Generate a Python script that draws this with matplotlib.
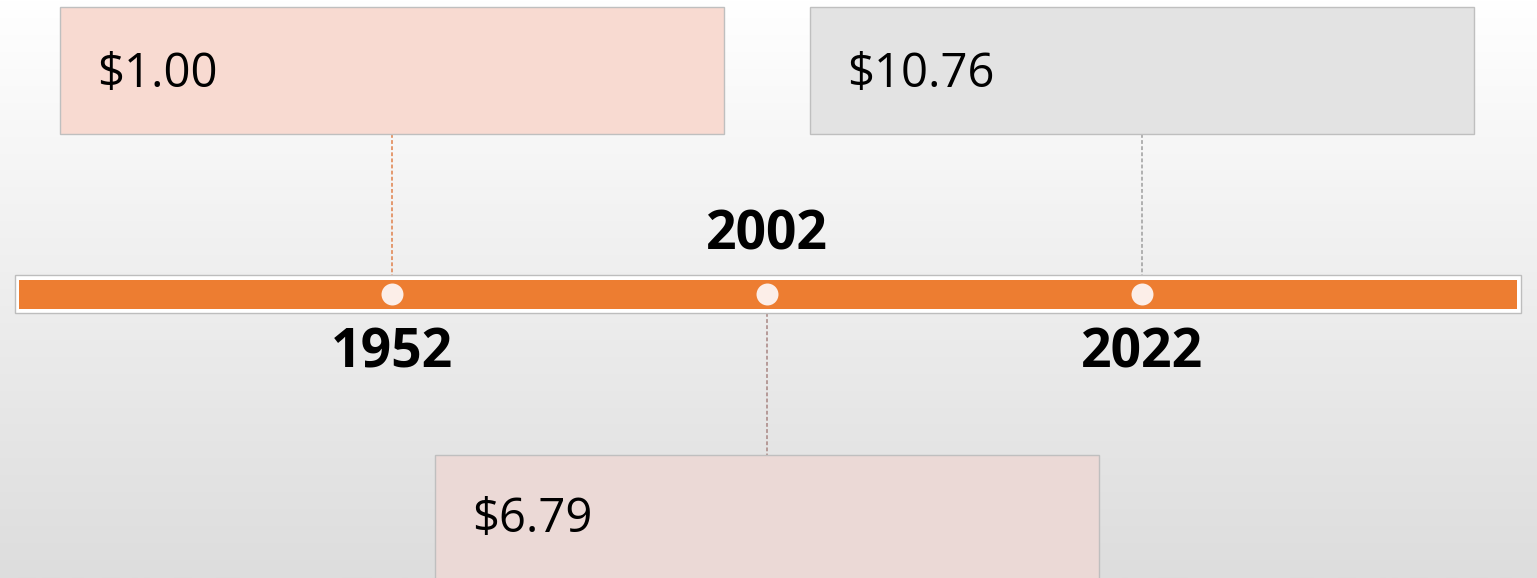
import numpy as np
import matplotlib
matplotlib.use("Agg")
import matplotlib.pyplot as plt
from matplotlib.patches import Rectangle
from matplotlib.colors import LinearSegmentedColormap

# ---- data ----
years = ["1952", "2002", "2022"]
prices = [1.00, 6.79, 10.76]
box_colors = ["#F8DAD1", "#EBD9D6", "#E3E3E3"]
line_colors = ["#E0804A", "#A88582", "#9E9E9E"]
box_side = ["top", "bottom", "top"]   # where the price box sits
label_side = ["below", "above", "below"]  # where the year label sits

# ---- layout (pixel units on y, index units on x) ----
W, H = 1537, 578
PX_PER_IDX = 375.0
X0_PX = 392.0
xlim = (-X0_PX / PX_PER_IDX, (W - X0_PX) / PX_PER_IDX)

def px(dx):
    return dx / PX_PER_IDX

fig = plt.figure(figsize=(W / 100, H / 100), dpi=100)
ax = fig.add_axes([0, 0, 1, 1])
ax.axis("off")

# background gradient
cmap = LinearSegmentedColormap.from_list("bg", ["#FFFFFF", "#DDDDDD"])
ax.imshow(np.linspace(0, 1, 256)[:, None], cmap=cmap, aspect="auto",
          extent=[xlim[0], xlim[1], H, 0], zorder=0)

# timeline bar (white frame + orange band)
ax.add_patch(Rectangle((xlim[0] + px(15), 275), px(1506), 38,
                       facecolor="white", edgecolor="#BDBDBD", lw=1.0, zorder=2))
ax.add_patch(Rectangle((xlim[0] + px(19), 279.5), px(1498), 29.5,
                       facecolor="#ED7D31", edgecolor="none", zorder=3))

idx = np.arange(len(years))
ax.scatter(idx, [294] * len(idx), s=250, color="#FCEEE8", zorder=5, linewidths=0)

box_w = px(664)
for i, (yr, p) in enumerate(zip(years, prices)):
    if box_side[i] == "top":
        btop, bh = 7, 127
        ax.plot([i, i], [134, 276], ls=(0, (2.5, 1.5)), lw=1.1,
                color=line_colors[i], zorder=1)
        ty = 87
    else:
        btop, bh = 454.5, 140
        ax.plot([i, i], [313, 456], ls=(0, (2.5, 1.5)), lw=1.1,
                color=line_colors[i], zorder=1)
        ty = 532
    ax.add_patch(Rectangle((i - box_w / 2, btop), box_w, bh,
                           facecolor=box_colors[i], edgecolor="#BFBFBF",
                           lw=1.0, zorder=2))
    ax.text(i - box_w / 2 + px(37), ty, f"${p:.2f}", fontsize=34,
            family="Open Sans", color="black", va="baseline", ha="left", zorder=6)
    ly = 368 if label_side[i] == "below" else 250
    ax.text(i, ly, yr, fontsize=38.5, family="Open Sans", fontweight="bold",
            color="black", va="baseline", ha="center", zorder=6)

ax.set_xlim(*xlim)
ax.set_ylim(H, 0)
fig.savefig("out.png", dpi=100)
